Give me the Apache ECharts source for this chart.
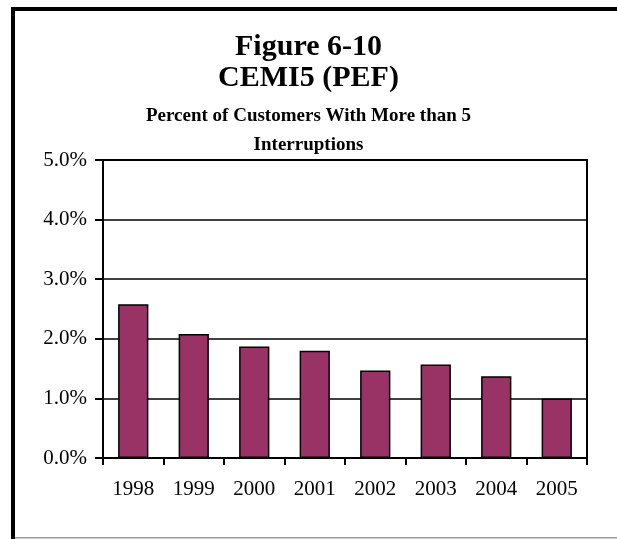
<!DOCTYPE html>
<html>
<head>
<meta charset="utf-8">
<script src="https://cdn.jsdelivr.net/npm/echarts@6/dist/echarts.min.js"></script>
<style>
  html, body { margin: 0; padding: 0; background: #fff; }
  #chart { width: 617px; height: 539px; }
</style>
</head>
<body>
<div id="chart"></div>
<script>
// chart data
const years = ['1998', '1999', '2000', '2001', '2002', '2003', '2004', '2005']
const cemi5 = [2.58, 2.08, 1.87, 1.80, 1.47, 1.57, 1.37, 1.00]
const titleLines = ['Figure 6-10', 'CEMI5 (PEF)']
const subtitleLines = ['Percent of Customers With More than 5', 'Interruptions']

const serif = '"Liberation Serif", "Times New Roman", serif'
const chart = echarts.init(document.getElementById('chart'))

chart.setOption({
  backgroundColor: '#fff',
  animation: false,
  title: [
    {
      text: titleLines[0], left: 'center', top: 27,
      textStyle: { fontFamily: serif, fontSize: 30, fontWeight: 'bold', color: '#000' }
    },
    {
      text: titleLines[1], left: 'center', top: 58,
      textStyle: { fontFamily: serif, fontSize: 30, fontWeight: 'bold', color: '#000' }
    },
    {
      text: subtitleLines[0], left: 'center', top: 102,
      textStyle: { fontFamily: serif, fontSize: 19, fontWeight: 'bold', color: '#000' }
    },
    {
      text: subtitleLines[1], left: 'center', top: 131,
      textStyle: { fontFamily: serif, fontSize: 19, fontWeight: 'bold', color: '#000' }
    }
  ],
  grid: {
    left: 103, right: 30, top: 160, bottom: 81,
    show: true, borderColor: '#000', borderWidth: 2
  },
  xAxis: {
    type: 'category',
    data: years,
    axisLine: { lineStyle: { color: '#000', width: 2 } },
    axisTick: { show: true, length: 7, lineStyle: { color: '#000', width: 2 } },
    axisLabel: { fontFamily: serif, fontSize: 21, color: '#000', margin: 21 }
  },
  yAxis: {
    type: 'value',
    min: 0, max: 5, interval: 1,
    axisLine: { show: true, lineStyle: { color: '#000', width: 2 } },
    axisTick: { show: true, length: 8, lineStyle: { color: '#000', width: 2 } },
    axisLabel: {
      fontFamily: serif, fontSize: 21, color: '#000', margin: 16,
      formatter: v => v.toFixed(1) + '%'
    },
    splitLine: { lineStyle: { color: '#000', width: 1.5 } }
  },
  series: [
    {
      type: 'bar',
      data: cemi5,
      barWidth: '50%',
      itemStyle: { color: '#993366', borderColor: '#000', borderWidth: 1.5 }
    }
  ],
  graphic: [
    // outer frame of the figure
    { type: 'rect', shape: { x: 11, y: 7, width: 4, height: 532 }, style: { fill: '#000' } },
    { type: 'rect', shape: { x: 11, y: 7, width: 606, height: 4 }, style: { fill: '#000' } },
    { type: 'rect', shape: { x: 15, y: 537, width: 602, height: 1.5 }, style: { fill: '#999' } }
  ]
})
</script>
</body>
</html>
